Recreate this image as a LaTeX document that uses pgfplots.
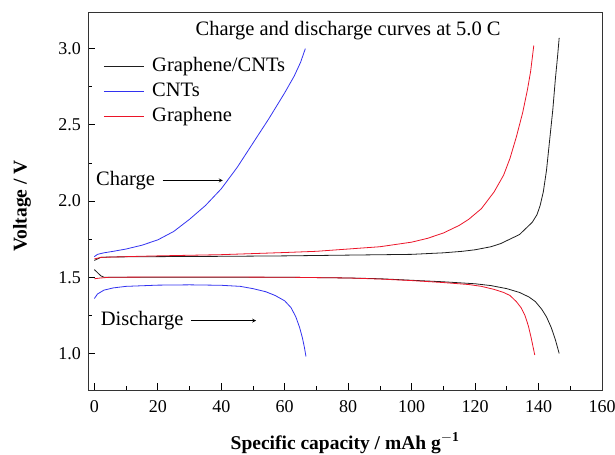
\documentclass[border=0pt]{standalone}
\usepackage{pgfplots}
\pgfplotsset{compat=1.18}
\usepackage{fontspec}
\setmainfont{Liberation Serif}
\definecolor{cblue}{RGB}{50,50,240}
\definecolor{cred}{RGB}{235,20,40}
\definecolor{cblack}{RGB}{30,30,30}
\begin{document}
\fontsize{20.5}{24}\selectfont
\begin{tikzpicture}
\begin{axis}[
  name=ax,
  scale only axis, width=514pt, height=378pt,
  xmin=-2, xmax=160, ymin=0.76, ymax=3.24,
  xtick={0,20,...,160}, minor xtick={10,30,...,150},
  ytick={1.0,1.5,...,3.0}, minor ytick={1.25,1.75,...,2.75},
  yticklabel style={/pgf/number format/.cd,fixed,fixed zerofill,precision=1},
  /pgf/number format/assume math mode=true,
  tick align=inside, xtick pos=bottom, ytick pos=left,
  major tick length=7pt, minor tick length=4pt,
  tick style={black, line width=0.7pt},
  axis line style={line width=0.9pt, black!80},
  tick label style={font=\fontsize{18}{21}\selectfont},
  xticklabel style={yshift=-3pt},
  legend style={draw=none, fill=none, inner sep=0pt, at={(axis cs:2.8,2.955)}, anchor=north west,
     font=\fontsize{20.5}{24}\selectfont, row sep=4pt, column sep=6pt,
     nodes={inner sep=2pt}},
  legend cell align=left,
  legend image code/.code={\draw[#1] (0pt,0pt) -- (40pt,0pt);},
]
% Graphene/CNTs charge
\addplot[color=cblack, line width=0.8pt] coordinates {
(0,1.61)(1,1.62)(2,1.63)(5,1.633)(20,1.635)(40,1.637)(60,1.64)(80,1.645)(100,1.65)(110,1.66)(116,1.67)(120,1.68)(125,1.70)(128,1.72)(131,1.75)(134,1.78)(136,1.82)(138,1.86)(139.5,1.91)(140.5,1.97)(141.5,2.06)(142.5,2.2)(143.5,2.4)(144.5,2.6)(145.3,2.8)(146,2.95)(146.5,3.07)};
\addlegendentry{Graphene/CNTs}
% CNTs charge
\addplot[color=cblue, line width=0.8pt] coordinates {
(0,1.635)(1,1.65)(3,1.66)(6,1.67)(10,1.685)(15,1.71)(20,1.745)(25,1.80)(30,1.88)(35,1.97)(40,2.08)(45,2.22)(50,2.38)(55,2.54)(60,2.71)(63,2.82)(65,2.91)(66.5,3.0)};
\addlegendentry{CNTs}
% Graphene charge
\addplot[color=cred, line width=0.8pt] coordinates {
(0,1.62)(2,1.63)(10,1.635)(20,1.64)(40,1.648)(60,1.662)(70,1.67)(80,1.685)(90,1.70)(100,1.73)(105,1.755)(110,1.79)(115,1.84)(118,1.88)(122,1.95)(126,2.06)(129,2.17)(131,2.28)(133,2.42)(135,2.58)(136.5,2.73)(137.5,2.85)(138.5,3.02)};
\addlegendentry{Graphene}
% Graphene/CNTs discharge
\addplot[color=cblack, line width=0.8pt, forget plot] coordinates {
(0,1.55)(1,1.53)(2,1.51)(3,1.50)(10,1.50)(30,1.50)(60,1.50)(80,1.495)(90,1.49)(100,1.48)(110,1.47)(120,1.457)(125,1.445)(130,1.425)(134,1.40)(137,1.37)(139,1.34)(141,1.29)(142.5,1.24)(144,1.17)(145.3,1.09)(146.5,1.0)};
% Graphene discharge
\addplot[color=cred, line width=0.8pt, forget plot] coordinates {
(0,1.49)(2,1.495)(5,1.50)(30,1.502)(60,1.50)(80,1.495)(90,1.488)(100,1.478)(110,1.465)(118,1.452)(122,1.44)(126,1.42)(129,1.40)(131,1.38)(133,1.34)(134.5,1.30)(135.7,1.25)(136.8,1.18)(137.7,1.10)(138.3,1.04)(138.8,0.99)};
% CNTs discharge
\addplot[color=cblue, line width=0.8pt, forget plot] coordinates {
(0,1.36)(1,1.39)(3,1.415)(6,1.43)(10,1.44)(20,1.448)(30,1.45)(40,1.447)(46,1.44)(50,1.425)(54,1.405)(57,1.38)(60,1.345)(62,1.30)(63.5,1.24)(64.7,1.17)(65.6,1.10)(66.2,1.04)(66.7,0.98)};
\node[anchor=center] at (axis cs:80,3.115) {Charge and discharge curves at 5.0 C};
\node[anchor=east, inner sep=1pt] at (axis cs:19.5,2.135) {Charge};
\draw[-stealth, line width=0.8pt] (axis cs:21.5,2.135) -- (axis cs:40.5,2.135);
\node[anchor=east, inner sep=1pt] at (axis cs:28.5,1.215) {Discharge};
\draw[-stealth, line width=0.8pt] (axis cs:30.5,1.215) -- (axis cs:51,1.215);
\end{axis}
\node[rotate=90, font=\fontsize{19.5}{22}\selectfont\bfseries] at ([shift={(-66pt,-5pt)}]ax.west) {Voltage / V};
\node[font=\fontsize{19.5}{22}\selectfont\bfseries] at ([yshift=-53pt]ax.south) {Specific capacity / mAh g$^{\mathbf{-1}}$};
\pgfresetboundingbox
\path ([shift={(-88pt,-64pt)}]ax.south west) rectangle ([shift={(13pt,12pt)}]ax.north east);
\end{tikzpicture}
\end{document}
